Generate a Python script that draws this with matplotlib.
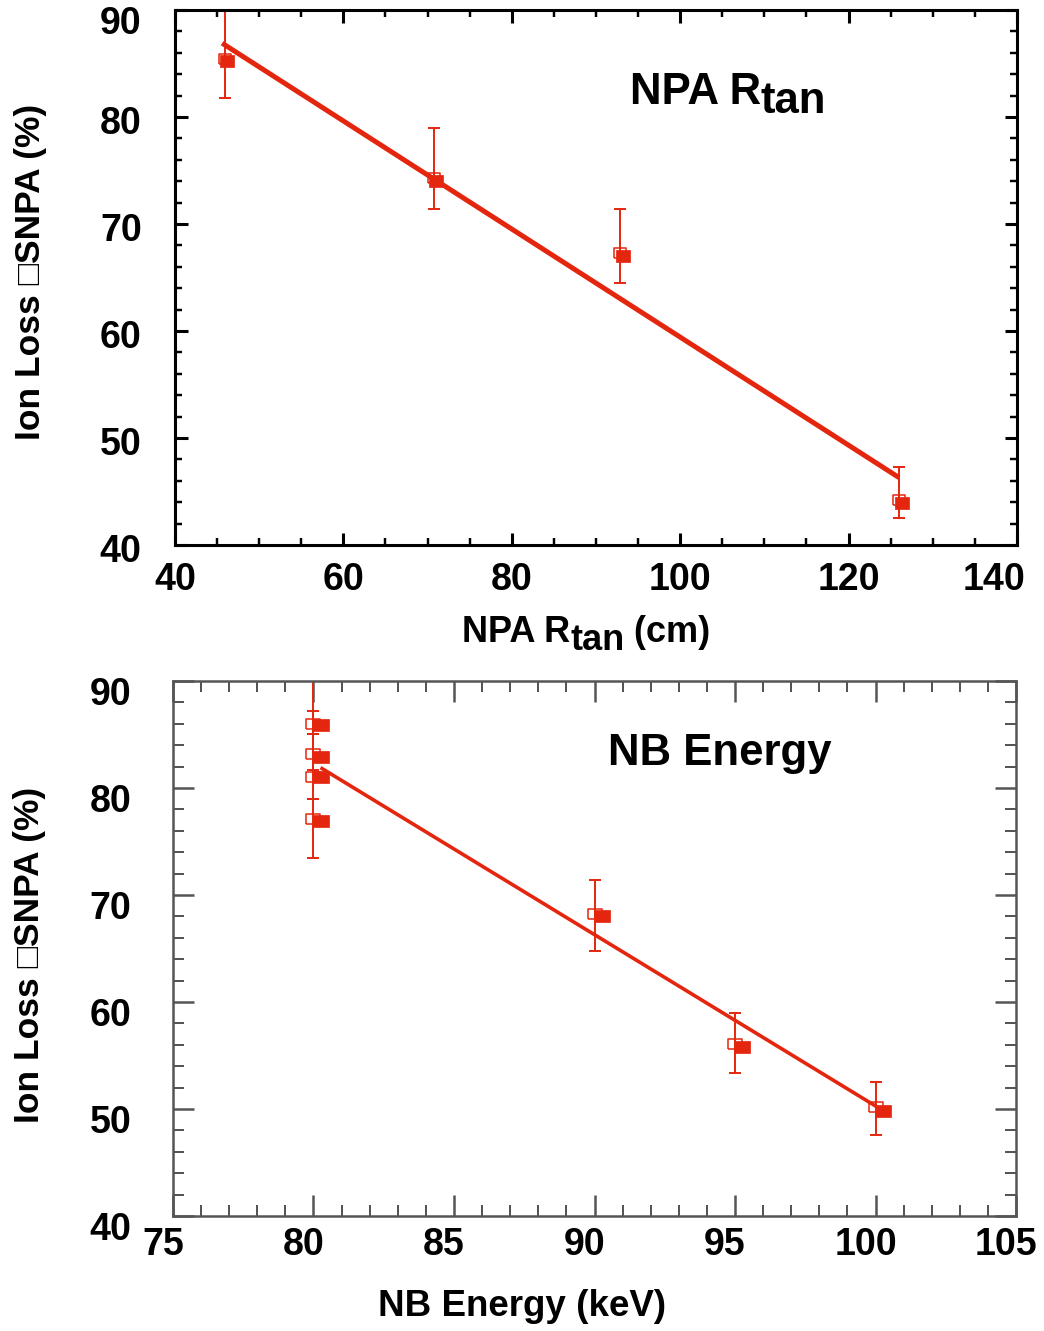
import matplotlib
matplotlib.use('Agg')
import matplotlib.pyplot as plt
import matplotlib.transforms as mtransforms
import numpy as np
from matplotlib.ticker import MultipleLocator

plt.rcParams['font.family'] = ['Liberation Sans', 'DejaVu Sans']
plt.rcParams['font.weight'] = 'bold'

RED = '#e5260e'

# Panel 1: NPA Rtan scan
rtan_open = [45.9, 70.8, 92.9, 126.0]
loss_rtan_open = [85.4, 74.3, 67.3, 44.2]
loss_rtan_lo = [81.8, 71.4, 64.5, 42.5]
loss_rtan_hi = [91.5, 79.0, 71.4, 47.3]
rtan_filled = [46.2, 71.0, 93.2, 126.3]
loss_rtan_filled = [85.2, 74.0, 67.0, 43.9]
rtan_fit_x = [45.6, 126.0]
rtan_fit_y = [86.9, 46.3]

# Panel 2: NB energy scan
energy_open = [80.0, 80.0, 80.0, 80.0, 90.0, 95.0, 100.0]
loss_energy_open = [86.0, 83.2, 81.0, 77.1, 68.2, 56.1, 50.2]
loss_energy_lo = [85.0, 81.7, 79.0, 73.5, 64.8, 53.4, 47.6]
loss_energy_hi = [87.2, 85.0, 90.5, 79.0, 71.4, 59.0, 52.5]
energy_filled = [80.25, 80.25, 80.25, 80.25, 90.25, 95.25, 100.25]
loss_energy_filled = [85.9, 82.9, 81.0, 76.9, 68.0, 55.8, 49.8]
energy_fit_x = [80.25, 100.05]
energy_fit_y = [81.9, 50.2]

YLABEL = 'Ion Loss \u25a1SNPA (%)'


def rect(aspect):
    return [(-aspect, -1), (aspect, -1), (aspect, 1), (-aspect, 1), (-aspect, -1)]


def draw_points(ax, xo, yo, lo, hi, xf, yf, fit_x, fit_y, fit_lw, ms_f, asp_f, ms_o, asp_o):
    yo = np.array(yo)
    yerr = [yo - np.array(lo), np.array(hi) - yo]
    ax.errorbar(xo, yo, yerr=yerr, fmt='none', ecolor=RED, elinewidth=1.4,
                capsize=4.5, capthick=1.4, zorder=2)
    ax.plot(xo, yo, linestyle='none', marker=rect(asp_o), ms=ms_o, mfc='none',
            mec=RED, mew=1.1, zorder=3)
    ax.plot(xf, yf, linestyle='none', marker=rect(asp_f), ms=ms_f, mfc=RED,
            mec=RED, mew=0.5, zorder=4)
    ax.plot(fit_x, fit_y, color=RED, lw=fit_lw, solid_capstyle='butt', zorder=3)


def style_axes(ax, spine_color, spine_lw, major_len, minor_len, ypad, xpad):
    for s in ax.spines.values():
        s.set_color(spine_color)
        s.set_linewidth(spine_lw)
    ax.tick_params(which='both', direction='in', top=True, right=True,
                   color=spine_color, labelsize=27)
    ax.tick_params(which='major', length=major_len, width=spine_lw)
    ax.tick_params(which='minor', length=minor_len, width=spine_lw * 0.8)
    ax.tick_params(axis='y', which='major', pad=ypad)
    ax.tick_params(axis='x', which='major', pad=xpad)


def shift_ticks(fig, axis, dx, dy, only=None):
    # move tick labels by a few pixels, as in the original layout
    off = mtransforms.ScaledTranslation(dx / 100, dy / 100, fig.dpi_scale_trans)
    for tick in axis.get_major_ticks():
        if only is not None and abs(tick.get_loc() - only) > 1e-6:
            continue
        tick.label1.set_transform(tick.label1.get_transform() + off)


def r_tan_text(ax, x, y, size, tail=''):
    # "R" followed by a lowered full-size "tan"
    t1 = ax.text(x, y, 'NPA R', transform=ax.transAxes, fontsize=size,
                 fontweight='bold', ha='left', va='center', clip_on=False)
    t2 = ax.annotate('tan', xy=(1, 0), xycoords=t1, fontsize=size,
                     fontweight='bold', ha='left', va='baseline',
                     annotation_clip=False)
    if tail:
        ax.annotate(tail, xy=(1, 0), xycoords=(t2, t1), fontsize=size,
                    fontweight='bold', ha='left', va='bottom',
                    annotation_clip=False)


def main():
    fig = plt.figure(figsize=(10.44, 13.31), dpi=100)

    # Top panel
    ax1 = fig.add_axes([0.1676, 0.5905, 0.8065, 0.402])
    draw_points(ax1, rtan_open, loss_rtan_open, loss_rtan_lo, loss_rtan_hi,
                rtan_filled, loss_rtan_filled, rtan_fit_x, rtan_fit_y, 3.6,
                10, 1.15, 9, 1.3)
    ax1.set_xlim(40, 140)
    ax1.set_ylim(40, 90)
    ax1.xaxis.set_major_locator(MultipleLocator(20))
    ax1.xaxis.set_minor_locator(MultipleLocator(5))
    ax1.yaxis.set_major_locator(MultipleLocator(10))
    ax1.yaxis.set_minor_locator(MultipleLocator(2))
    style_axes(ax1, 'black', 2.2, 9, 5, 24, 12)
    fig.canvas.draw()
    shift_ticks(fig, ax1.yaxis, 0, -3)
    shift_ticks(fig, ax1.yaxis, 0, -7, only=90)
    shift_ticks(fig, ax1.xaxis, -23, 0, only=140)
    r_tan_text(ax1, 0.341, -0.163, 26, ' (cm)')
    ax1.set_ylabel(YLABEL, fontsize=25.5, fontweight='bold', va='center')
    ax1.yaxis.set_label_coords(-0.172, 0.51)
    r_tan_text(ax1, 0.54, 0.845, 31.5)

    # Bottom panel
    ax2 = fig.add_axes([0.1657, 0.0864, 0.8075, 0.402])
    draw_points(ax2, energy_open, loss_energy_open, loss_energy_lo, loss_energy_hi,
                energy_filled, loss_energy_filled, energy_fit_x, energy_fit_y, 2.6,
                11.5, 1.35, 10, 1.4)
    ax2.set_xlim(75, 105)
    ax2.set_ylim(40, 90)
    ax2.xaxis.set_major_locator(MultipleLocator(5))
    ax2.xaxis.set_minor_locator(MultipleLocator(1))
    ax2.yaxis.set_major_locator(MultipleLocator(10))
    ax2.yaxis.set_minor_locator(MultipleLocator(2))
    style_axes(ax2, '#555555', 1.8, 15, 8, 30, 8)
    fig.canvas.draw()
    shift_ticks(fig, ax2.yaxis, 0, -10)
    shift_ticks(fig, ax2.xaxis, -10, 0)
    ax2.set_xlabel('NB Energy (keV)', fontsize=26.5, fontweight='bold', va='center')
    ax2.xaxis.set_label_coords(0.414, -0.17)
    ax2.set_ylabel(YLABEL, fontsize=25.5, fontweight='bold', va='center')
    ax2.yaxis.set_label_coords(-0.17, 0.488)
    ax2.text(0.516, 0.865, 'NB Energy', transform=ax2.transAxes,
             fontsize=31.5, fontweight='bold', ha='left', va='center')

    fig.savefig('out.png', dpi=100)


main()
